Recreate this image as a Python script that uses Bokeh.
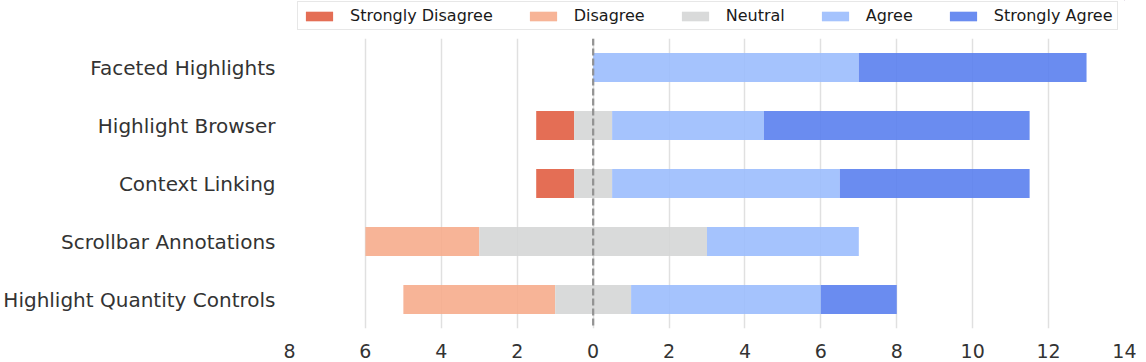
from bokeh.plotting import figure
from bokeh.layouts import column
from bokeh.models import (ColumnDataSource, FactorRange, Range1d, FixedTicker,
                          CustomJSTickFormatter, Span, Legend, LegendItem)
from bokeh.embed import file_html
from bokeh.resources import INLINE

categories = ["Faceted Highlights", "Highlight Browser", "Context Linking",
              "Scrollbar Annotations", "Highlight Quantity Controls"]
levels = ["Strongly Disagree", "Disagree", "Neutral", "Agree", "Strongly Agree"]
strongly_disagree = [0, 1, 1, 0, 0]
disagree = [0, 0, 0, 3, 4]
neutral = [0, 1, 1, 6, 2]
agree = [7, 4, 6, 4, 5]
strongly_agree = [6, 7, 5, 0, 2]
colors = ["#e15e43", "#f6ac8c", "#d5d6d6", "#9bbdfd", "#5a80ee"]
x_ticks = [-8, -6, -4, -2, 0, 2, 4, 6, 8, 10, 12, 14]

series = [strongly_disagree, disagree, neutral, agree, strongly_agree]

# diverging stacks: start at -(SD + D + N/2)
starts = [-(sd + d + n / 2) for sd, d, n in zip(strongly_disagree, disagree, neutral)]

p = figure(width=1136, height=329, output_backend="svg", toolbar_location=None,
           y_range=FactorRange(*reversed(categories)),
           x_range=Range1d(-8, 14),
           min_border_left=281, min_border_right=12, min_border_top=7, min_border_bottom=0)
p.y_range.range_padding = 0

leg = figure(width=1136, height=31, output_backend="svg", toolbar_location=None,
             x_range=Range1d(0, 1), y_range=Range1d(0, 1),
             x_axis_type=None, y_axis_type=None,
             min_border_left=0, min_border_right=0, min_border_top=0, min_border_bottom=0)
leg.grid.visible = False
leg.outline_line_color = None

items = []
cum = list(starts)
for lvl, vals, col in zip(levels, series, colors):
    left = list(cum)
    right = [a + b for a, b in zip(cum, vals)]
    cum = right
    src = ColumnDataSource(dict(y=categories, left=left, right=right))
    p.hbar(y="y", left="left", right="right", height=0.5, source=src,
           fill_color=col, fill_alpha=0.9, line_color=None)
    # legend-only renderer (kept outside the visible range)
    lr = leg.hbar(y=[5], left=[5], right=[5], height=0.5,
                  fill_color=col, fill_alpha=0.9, line_color=None)
    items.append(LegendItem(label=lvl, renderers=[lr]))

p.add_layout(Span(location=0, dimension="height", line_color="#8c8c8c",
                  line_width=2.3, line_dash="7 3", line_alpha=0.9))

legend = Legend(items=items, orientation="horizontal", location=(8, 1),
                label_text_font="DejaVu Sans", label_text_font_size="16px",
                label_text_color="#1a1a1a", glyph_width=34, glyph_height=12,
                label_standoff=14, spacing=33, padding=4, margin=0,
                border_line_color="#d0d0d0", border_line_width=1.5)
leg.add_layout(legend)

p.xaxis.ticker = FixedTicker(ticks=x_ticks)
p.xaxis.formatter = CustomJSTickFormatter(code="return Math.abs(tick).toString();")
for ax in (p.xaxis, p.yaxis):
    ax.axis_line_color = None
    ax.major_tick_line_color = None
    ax.minor_tick_line_color = None
    ax.major_label_text_font = "DejaVu Sans"
    ax.major_label_text_color = "#333333"
p.xaxis.major_label_text_font_size = "19px"
p.yaxis.major_label_text_font_size = "20px"
p.xaxis.major_label_standoff = 9
p.yaxis.major_label_standoff = 8

p.xgrid.ticker = FixedTicker(ticks=x_ticks)
p.xgrid.grid_line_color = "#e0e0e0"
p.xgrid.grid_line_width = 1.5
p.ygrid.grid_line_color = None
p.outline_line_color = None

layout = column(leg, p)
open("out.html", "w").write(file_html(layout, INLINE))
